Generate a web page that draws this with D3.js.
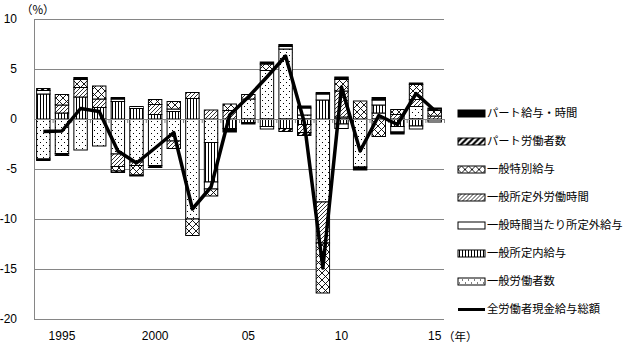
<!DOCTYPE html>
<html>
<head>
<meta charset="utf-8">
<script src="https://cdn.jsdelivr.net/npm/d3@7"></script>
<style>
  body { margin: 0; background: #fff; }
  svg { display: block; }
  text { font-family: 'Noto Sans CJK JP', 'Liberation Sans', sans-serif; fill: #000; }
</style>
</head>
<body>
<div id="chart"></div>
<script>
const years = [1994, 1995, 1996, 1997, 1998, 1999, 2000, 2001, 2002, 2003, 2004,
  2005, 2006, 2007, 2008, 2009, 2010, 2011, 2012, 2013, 2014, 2015];
const yearLabels = ['', '1995', '', '', '', '', '2000', '', '', '', '',
  '05', '', '', '', '', '10', '', '', '', '', '15'];
const yTicks = [10, 5, 0, -5, -10, -15, -20];

// stacking order, bottom (nearest zero) first
const seriesNames = ['一般労働者数', '一般所定内給与', '一般時間当たり所定外給与',
  '一般所定外労働時間', '一般特別給与', 'パート労働者数', 'パート給与・時間'];
const lineName = '全労働者現金給与総額';

const generalWorkers = [-4.0, -3.45, -3.1, -2.7, -3.5, -4.3, -4.65, -2.2, -10.0, -2.35, 0,
  2.0, 4.85, 7.0, 0.4, -8.3, 0.2, -4.8, 0.6, 0, 1.25, 0];
const generalScheduledPay = [2.5, 0.6, 2.2, 1.15, 1.75, 1.05, 0.45, 0.75, 2.05, -3.95, -0.95,
  -0.35, -0.75, -0.95, -0.55, 1.9, -0.5, 0, 0.8, -0.75, -0.7, -0.1];
const generalOvertimeRate = [0.35, 0, 0, 0, 0.25, 0.2, 0, 0.25, 0, -0.7, 0,
  0, -0.25, 0.25, 0.7, 0.6, -0.45, 0, 0.5, -0.55, -0.3, -0.2];
const generalOvertimeHours = [0, 0.8, 0.95, 0.85, -1.25, -0.35, 1.0, -0.75, 0.6, 0.9, 0.85,
  0.45, 0, 0, -0.8, -4.1, 2.6, 0, 0, 0.45, 0.7, 0.3];
const generalSpecialPay = [0, 1.05, 0.8, 1.3, -0.45, -0.95, 0.5, 0.75, -1.65, -0.7, 0.65,
  0, 0.65, 0, 0, -5.0, 1.15, 1.8, -1.75, 0.5, 1.5, 0.55];
const partWorkers = [0.2, 0, 0, 0, -0.15, 0, 0, 0, 0, 0, 0,
  0, 0, -0.3, -0.3, 0, 0, 0, 0, 0, 0, 0.15];
const partPayHours = [-0.15, -0.2, 0.2, 0, 0.15, -0.1, -0.2, 0, 0, 0, -0.35,
  -0.15, 0.2, 0.2, 0.2, 0.15, 0.25, -0.3, 0.25, -0.2, 0.15, 0.1];
const totalWages = [-1.25, -1.2, 1.05, 0.75, -3.2, -4.4, -2.9, -1.35, -9.0, -6.8, 0.4,
  2.2, 4.2, 6.3, -0.3, -14.9, 3.2, -3.2, 0.35, -0.55, 2.55, 0.85];

(function () {
  const width = 626, height = 343;
  const plot = { left: 34, right: 444, top: 19, bottom: 319 };

  const seriesValues = [generalWorkers, generalScheduledPay, generalOvertimeRate,
    generalOvertimeHours, generalSpecialPay, partWorkers, partPayHours];
  const fills = ['url(#p-dots)', 'url(#p-vert)', '#fff', 'url(#p-thin)',
    'url(#p-cross)', 'url(#p-bold)', '#000'];

  const rows = years.map((year, i) => {
    const row = { year: year, total: totalWages[i] };
    seriesNames.forEach((name, k) => { row[name] = seriesValues[k][i]; });
    return row;
  });

  const stacked = d3.stack()
    .keys(seriesNames)
    .offset(d3.stackOffsetDiverging)(rows);

  const xPositionScale = d3.scaleBand()
    .domain(years)
    .range([plot.left, plot.right])
    .paddingInner(0.28)
    .paddingOuter(0.14);
  const yPositionScale = d3.scaleLinear().domain([-20, 10]).range([plot.bottom, plot.top]);
  const boundaryScale = d3.scaleLinear().domain([0, years.length]).range([plot.left, plot.right]);

  const svg = d3.select('#chart')
    .append('svg')
    .attr('width', width)
    .attr('height', height);

  // patterns
  const defs = svg.append('defs');
  function pattern(id, w, h) {
    const p = defs.append('pattern')
      .attr('id', id)
      .attr('patternUnits', 'userSpaceOnUse')
      .attr('width', w)
      .attr('height', h);
    p.append('rect').attr('width', w).attr('height', h).attr('fill', '#fff');
    return p;
  }
  const dots = pattern('p-dots', 6, 6);
  dots.append('rect').attr('x', 1).attr('y', 1).attr('width', 1).attr('height', 1).attr('fill', '#000');
  dots.append('rect').attr('x', 4).attr('y', 4).attr('width', 1).attr('height', 1).attr('fill', '#000');

  pattern('p-vert', 3, 3)
    .append('rect').attr('x', 1).attr('width', 1).attr('height', 3).attr('fill', '#000');

  pattern('p-thin', 4, 4)
    .append('path')
    .attr('d', 'M-1,1L1,-1M0,4L4,0M3,5L5,3')
    .attr('stroke', '#000')
    .attr('stroke-width', 0.8);

  pattern('p-bold', 6, 6)
    .append('path')
    .attr('d', 'M-1,1L1,-1M0,6L6,0M5,7L7,5')
    .attr('stroke', '#000')
    .attr('stroke-width', 2.2);

  pattern('p-cross', 7, 7)
    .append('path')
    .attr('d', 'M0,0L7,7M7,0L0,7')
    .attr('stroke', '#000')
    .attr('stroke-width', 0.9);

  // gridlines
  const grid = svg.append('g')
    .attr('transform', `translate(${plot.left},0)`)
    .call(d3.axisLeft(yPositionScale)
      .tickValues(yTicks.filter((d) => d !== 0))
      .tickSize(-(plot.right - plot.left))
      .tickFormat(''));
  grid.select('.domain').remove();
  grid.selectAll('line').attr('stroke', '#868686');

  // y axis labels + axis line
  const yAxis = svg.append('g')
    .attr('transform', `translate(${plot.left},0)`)
    .call(d3.axisLeft(yPositionScale)
      .tickValues(yTicks)
      .tickSize(0)
      .tickPadding(17)
      .tickFormat((d) => String(d)));
  yAxis.select('.domain').attr('stroke', '#868686');
  yAxis.selectAll('text')
    .style('font-size', '12px')
    .style('font-family', "'Liberation Sans', sans-serif");

  svg.append('text')
    .attr('x', 21)
    .attr('y', 14)
    .style('font-size', '11.5px')
    .text('（%）');

  // bars
  svg.append('g')
    .selectAll('g')
    .data(stacked)
    .join('g')
    .attr('fill', (d, i) => fills[i])
    .selectAll('rect')
    .data((d) => d.filter((seg) => seg[1] - seg[0] !== 0))
    .join('rect')
    .attr('x', (d) => xPositionScale(d.data.year))
    .attr('width', xPositionScale.bandwidth())
    .attr('y', (d) => yPositionScale(d[1]))
    .attr('height', (d) => yPositionScale(d[0]) - yPositionScale(d[1]))
    .attr('stroke', '#000')
    .attr('stroke-width', 1);

  // zero axis with category ticks
  const zeroAxis = svg.append('g')
    .attr('transform', `translate(0,${yPositionScale(0)})`)
    .call(d3.axisBottom(boundaryScale)
      .tickValues(d3.range(years.length + 1))
      .tickSize(4)
      .tickSizeOuter(0)
      .tickFormat(''));
  zeroAxis.selectAll('line, path').attr('stroke', '#868686');

  // category labels at the bottom
  const xAxis = svg.append('g')
    .attr('transform', `translate(0,${plot.bottom})`)
    .call(d3.axisBottom(xPositionScale)
      .tickSize(0)
      .tickPadding(12)
      .tickFormat((d, i) => yearLabels[i]));
  xAxis.select('.domain').remove();
  xAxis.selectAll('text')
    .style('font-size', '12px')
    .style('font-family', "'Liberation Sans', sans-serif");

  svg.append('text')
    .attr('x', 443)
    .attr('y', 341)
    .style('font-size', '11.5px')
    .text('（年）');

  // total line
  const line = d3.line()
    .x((d) => xPositionScale(d.year) + xPositionScale.bandwidth() / 2)
    .y((d) => yPositionScale(d.total));

  svg.append('path')
    .datum(rows)
    .attr('fill', 'none')
    .attr('stroke', '#000')
    .attr('stroke-width', 3.5)
    .attr('stroke-linejoin', 'round')
    .attr('d', line);

  // legend
  const legendItems = seriesNames.map((name, i) => ({ name: name, fill: fills[i] })).reverse();
  legendItems.push({ name: lineName, isLine: true });

  const legend = svg.append('g')
    .selectAll('g')
    .data(legendItems)
    .join('g')
    .attr('transform', (d, i) => `translate(458,${113.5 + i * 28})`);

  legend.filter((d) => !d.isLine)
    .append('rect')
    .attr('x', 0)
    .attr('y', -3.5)
    .attr('width', 27)
    .attr('height', 7)
    .attr('fill', (d) => d.fill)
    .attr('stroke', '#000')
    .attr('stroke-width', 1);

  legend.filter((d) => d.isLine)
    .append('line')
    .attr('x1', 0)
    .attr('x2', 27)
    .attr('stroke', '#000')
    .attr('stroke-width', 3);

  legend.append('text')
    .attr('x', 29)
    .attr('dy', '0.35em')
    .style('font-size', '11.3px')
    .text((d) => d.name);
})();
</script>
</body>
</html>
